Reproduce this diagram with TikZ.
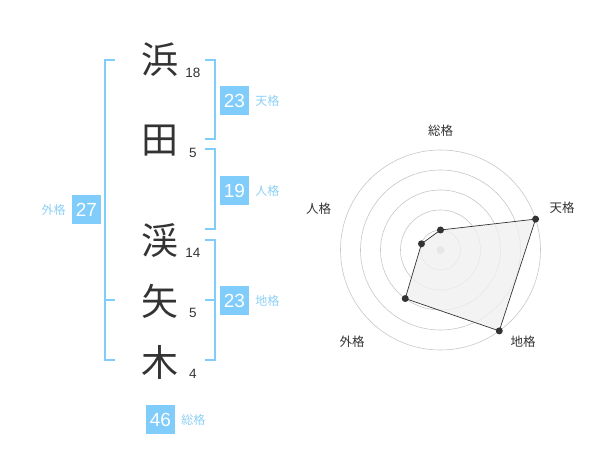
\documentclass[tikz,border=0pt]{standalone}
\usepackage{fontspec}
\setmainfont{Liberation Sans}
\newfontfamily\jp{Noto Sans CJK JP}
\usetikzlibrary{positioning,calc}
\definecolor{kakublue}{RGB}{128,204,250}
\definecolor{kakutext}{RGB}{140,208,245}
\definecolor{ink}{RGB}{51,51,51}
\begin{document}
\begin{tikzpicture}[x=1pt,y=-1pt,
    kanji/.style={text=ink,font=\jp\fontsize{37}{37}\selectfont,inner sep=0pt},
    strokes/.style={text=ink,font=\fontsize{13.5}{13.5}\selectfont,inner sep=0pt},
    score/.style={fill=kakublue,text=white,minimum width=29pt,minimum height=29pt,inner sep=0pt,font=\fontsize{19}{19}\selectfont},
    kaku/.style={text=kakutext,font=\jp\fontsize{12}{12}\selectfont,inner sep=0pt},
    bracket/.style={draw=kakublue,line width=2pt},
    axis/.style={text=ink,font=\jp\fontsize{12.5}{12.5}\selectfont,inner sep=0pt}]
    \useasboundingbox (0,0) rectangle (600,470);
    % name characters and stroke counts
    \node[kanji] (hama) at (160,60) {浜};
    \node[kanji] (ta) at (160,141) {田};
    \node[kanji] (tani) at (160,241) {渓};
    \node[kanji] (ya) at (160,301) {矢};
    \node[kanji] (ki) at (160,362) {木};
    \node[strokes] (n1) at (193,73) {18};
    \node[strokes] (n2) at (193,153) {5};
    \node[strokes] (n3) at (193,253) {14};
    \node[strokes] (n4) at (193,313) {5};
    \node[strokes] (n5) at (193,374) {4};
    % brackets
    \draw[bracket] (205,60) -- (215,60) -- (215,139) -- (205,139);
    \draw[bracket] (205,149) -- (215,149) -- (215,229) -- (205,229);
    \draw[bracket] (205,240) -- (215,240) -- (215,360) -- (205,360);
    \draw[bracket] (205,300) -- (215,300);
    \draw[bracket] (115,60) -- (105,60) -- (105,360) -- (115,360);
    \draw[bracket] (105,300) -- (115,300);
    % scores
    \node[score] (ten) at (234.5,100.5) {23};
    \node[kaku,right=6pt of ten] (tenl) {天格};
    \node[score] (jin) at (234.5,190.5) {19};
    \node[kaku,right=6pt of jin] (jinl) {人格};
    \node[score] (chi) at (234.5,300.5) {23};
    \node[kaku,right=6pt of chi] (chil) {地格};
    \node[score] (gai) at (86.5,210) {27};
    \node[kaku,left=6pt of gai] (gail) {外格};
    \node[score] (sou) at (160.5,419.5) {46};
    \node[kaku,right=6pt of sou] (soul) {総格};
    % radar chart
    \coordinate (c) at (440.5,250);
    \foreach \r in {20,40,60,80,100}
        \draw[black!22,line width=0.6pt] (c) circle (\r);
    \fill[black!22] (c) circle (4);
    \coordinate (p1) at ($(c)+(-90:20)$);
    \coordinate (p2) at ($(c)+(-18:100)$);
    \coordinate (p3) at ($(c)+(54:100)$);
    \coordinate (p4) at ($(c)+(126:60)$);
    \coordinate (p5) at ($(c)+(198:20)$);
    \draw[fill=black!6,fill opacity=0.8,draw=ink,line width=0.7pt] (p1) -- (p2) -- (p3) -- (p4) -- (p5) -- cycle;
    \foreach \p in {p1,p2,p3,p4,p5}
        \fill[ink] (\p) circle (3.5);
    \node[axis] (asou) at (440.5,131) {総格};
    \node[axis] (aten) at (562,208) {天格};
    \node[axis] (achi) at (523,342) {地格};
    \node[axis] (agai) at (352,342) {外格};
    \node[axis] (ajin) at (318.5,209) {人格};
\end{tikzpicture}
\end{document}
